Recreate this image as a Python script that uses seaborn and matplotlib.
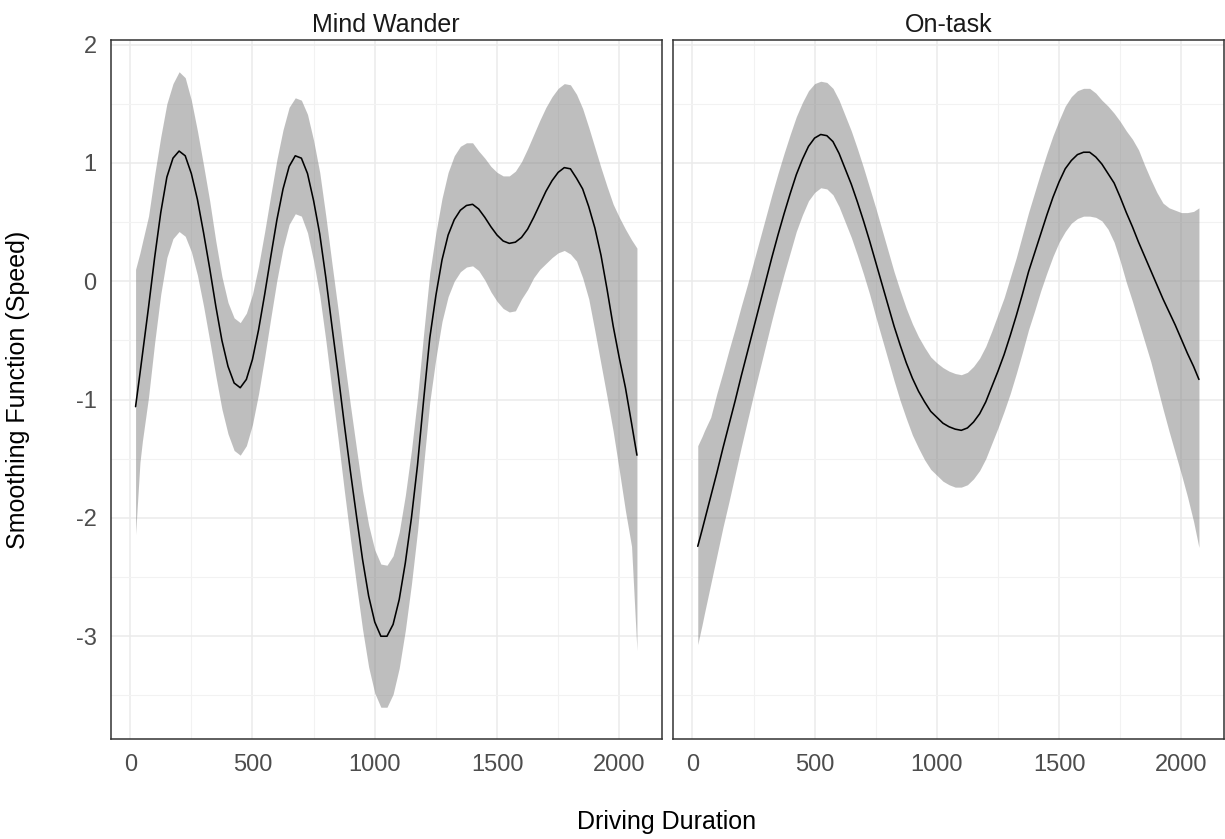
import numpy as np
import pandas as pd
import matplotlib
matplotlib.use("Agg")
import matplotlib.pyplot as plt
import seaborn as sns
from matplotlib.ticker import MultipleLocator

# ---------------- data ----------------
panels = ["Mind Wander", "On-task"]

duration = [22, 40,
            50, 75,
            100, 125, 150, 175, 200, 225, 250, 275, 300, 325, 350, 375,
            400, 425, 450, 475, 500, 525, 550, 575, 600, 625, 650, 675,
            700, 725, 750, 775, 800, 825, 850, 875, 900, 925, 950, 975,
            1000, 1025, 1050, 1075, 1100, 1125, 1150, 1175, 1200, 1225, 1250, 1275,
            1300, 1325, 1350, 1375, 1400, 1425, 1450, 1475, 1500, 1525, 1550, 1575,
            1600, 1625, 1650, 1675, 1700, 1725, 1750, 1775, 1800, 1825, 1850, 1875,
            1900, 1925, 1950, 1975, 2000, 2025, 2050,
            2072]

mw_fit = [-1.06, -0.78,
          -0.62, -0.22,
          0.20, 0.58, 0.88, 1.04, 1.10, 1.06, 0.91, 0.69, 0.41, 0.11, -0.21, -0.50,
          -0.72, -0.86, -0.90, -0.83, -0.66, -0.41, -0.11, 0.21, 0.52, 0.78, 0.97, 1.06,
          1.04, 0.91, 0.68, 0.40, 0.03, -0.38, -0.78, -1.20, -1.60, -1.98, -2.35, -2.66,
          -2.88, -3.00, -3.00, -2.90, -2.69, -2.38, -2.00, -1.55, -1.00, -0.48, -0.12, 0.18,
          0.39, 0.52, 0.60, 0.64, 0.65, 0.61, 0.54, 0.46, 0.39, 0.34, 0.32, 0.33,
          0.37, 0.44, 0.54, 0.65, 0.76, 0.85, 0.92, 0.96, 0.95, 0.87, 0.78, 0.63,
          0.45, 0.22, -0.07, -0.38, -0.65, -0.90, -1.20,
          -1.47]
mw_upper = [0.10, 0.24,
            0.33, 0.55,
            0.90, 1.22, 1.50, 1.67, 1.77, 1.72, 1.53, 1.27, 0.98, 0.68, 0.34, 0.04,
            -0.18, -0.31, -0.35, -0.27, -0.11, 0.13, 0.42, 0.73, 1.03, 1.28, 1.47, 1.55,
            1.53, 1.41, 1.19, 0.92, 0.55, 0.15, -0.24, -0.65, -1.04, -1.41, -1.77, -2.06,
            -2.27, -2.39, -2.40, -2.32, -2.12, -1.81, -1.43, -0.98, -0.44, 0.07, 0.41, 0.70,
            0.92, 1.06, 1.14, 1.17, 1.17, 1.10, 1.04, 0.97, 0.92, 0.89, 0.89, 0.93,
            1.01, 1.12, 1.24, 1.36, 1.47, 1.56, 1.63, 1.67, 1.66, 1.58, 1.46, 1.30,
            1.13, 0.96, 0.80, 0.65, 0.54, 0.44, 0.35,
            0.28]
mw_lower = [-2.14, -1.53,
            -1.35, -0.98,
            -0.52, -0.11, 0.20, 0.36, 0.42, 0.38, 0.25, 0.05, -0.21, -0.50, -0.80, -1.08,
            -1.29, -1.43, -1.47, -1.39, -1.21, -0.95, -0.64, -0.31, 0.01, 0.28, 0.48, 0.57,
            0.55, 0.41, 0.17, -0.12, -0.50, -0.92, -1.33, -1.76, -2.17, -2.56, -2.94, -3.26,
            -3.48, -3.60, -3.60, -3.49, -3.27, -2.95, -2.56, -2.11, -1.55, -1.02, -0.65, -0.34,
            -0.13, 0.00, 0.08, 0.12, 0.13, 0.09, 0.01, -0.09, -0.17, -0.23, -0.26, -0.25,
            -0.15, -0.07, 0.03, 0.10, 0.15, 0.20, 0.24, 0.26, 0.23, 0.17, 0.03, -0.15,
            -0.42, -0.70, -0.98, -1.27, -1.60, -1.94, -2.24,
            -3.12]

ot_fit = [-2.24, -2.10,
          -2.02, -1.82,
          -1.62, -1.41, -1.21, -1.01, -0.80, -0.60, -0.40, -0.20, 0.00, 0.20, 0.39, 0.57,
          0.74, 0.90, 1.03, 1.14, 1.21, 1.24, 1.23, 1.18, 1.08, 0.95, 0.82, 0.67,
          0.51, 0.34, 0.16, -0.02, -0.20, -0.38, -0.54, -0.69, -0.82, -0.93, -1.02, -1.10,
          -1.15, -1.20, -1.23, -1.25, -1.26, -1.24, -1.19, -1.12, -1.02, -0.89, -0.76, -0.62,
          -0.46, -0.29, -0.11, 0.08, 0.24, 0.40, 0.56, 0.71, 0.84, 0.95, 1.02, 1.07,
          1.09, 1.09, 1.05, 0.99, 0.91, 0.83, 0.71, 0.58, 0.46, 0.33, 0.21, 0.09,
          -0.03, -0.15, -0.26, -0.37, -0.49, -0.61, -0.72,
          -0.83]
ot_upper = [-1.39, -1.31,
            -1.26, -1.15,
            -0.95, -0.77, -0.58, -0.40, -0.21, -0.03, 0.16, 0.35, 0.54, 0.73, 0.91, 1.08,
            1.24, 1.39, 1.51, 1.61, 1.67, 1.69, 1.68, 1.63, 1.53, 1.40, 1.27, 1.12,
            0.96, 0.79, 0.62, 0.44, 0.26, 0.08, -0.08, -0.23, -0.36, -0.47, -0.56, -0.64,
            -0.69, -0.73, -0.76, -0.78, -0.79, -0.77, -0.72, -0.65, -0.55, -0.42, -0.28, -0.14,
            0.03, 0.20, 0.39, 0.58, 0.75, 0.92, 1.08, 1.23, 1.36, 1.48, 1.56, 1.61,
            1.63, 1.63, 1.59, 1.53, 1.48, 1.42, 1.35, 1.27, 1.20, 1.11, 0.98, 0.86,
            0.75, 0.66, 0.62, 0.60, 0.58, 0.58, 0.59,
            0.62]
ot_lower = [-3.07, -2.90,
            -2.80, -2.56,
            -2.32, -2.08, -1.86, -1.63, -1.40, -1.18, -0.96, -0.75, -0.54, -0.33, -0.13, 0.06,
            0.24, 0.42, 0.56, 0.68, 0.75, 0.79, 0.78, 0.73, 0.63, 0.50, 0.37, 0.22,
            0.06, -0.11, -0.30, -0.48, -0.66, -0.84, -1.01, -1.16, -1.30, -1.41, -1.51, -1.59,
            -1.64, -1.69, -1.72, -1.74, -1.74, -1.72, -1.67, -1.60, -1.50, -1.37, -1.24, -1.10,
            -0.95, -0.78, -0.60, -0.41, -0.25, -0.08, 0.07, 0.21, 0.33, 0.42, 0.49, 0.53,
            0.55, 0.55, 0.54, 0.51, 0.44, 0.33, 0.17, -0.01, -0.17, -0.34, -0.51, -0.68,
            -0.88, -1.08, -1.27, -1.45, -1.63, -1.82, -2.03,
            -2.25]

x_ticks = [0, 500, 1000, 1500, 2000]
y_ticks = [-3, -2, -1, 0, 1, 2]

df = pd.concat([
    pd.DataFrame({"panel": panels[0], "duration": duration, "fit": mw_fit,
                  "upper": mw_upper, "lower": mw_lower}),
    pd.DataFrame({"panel": panels[1], "duration": duration, "fit": ot_fit,
                  "upper": ot_upper, "lower": ot_lower}),
], ignore_index=True)

# ---------------- style ----------------
sns.set_theme(style="white")
plt.rcParams["font.family"] = ["Liberation Sans", "DejaVu Sans"]
plt.rcParams["axes.unicode_minus"] = False

W, H = 1225, 839
fig = plt.figure(figsize=(W / 100, H / 100), dpi=100)
bottom = 1 - 739 / H
height = 699 / H
ax1 = fig.add_axes([110.5 / W, bottom, 551.5 / W, height])
ax2 = fig.add_axes([672.7 / W, bottom, 551.3 / W, height], sharey=ax1)
axes = [ax1, ax2]

# shared scales with 5% expansion (ggplot-like)
xmin, xmax = df["duration"].min(), df["duration"].max()
xr = xmax - xmin
ymin, ymax = df["lower"].min(), df["upper"].max()
yr = ymax - ymin

for i, (ax, panel) in enumerate(zip(axes, panels)):
    sub = df[df["panel"] == panel]
    ax.set_axisbelow(True)
    ax.fill_between(sub["duration"], sub["lower"], sub["upper"],
                    color="#7f7f7f", alpha=0.5, linewidth=0, zorder=2)
    sns.lineplot(data=sub, x="duration", y="fit", ax=ax, color="black",
                 linewidth=1.15, zorder=3, sort=False)
    ax.set_xlim(xmin - 0.05 * xr, xmax + 0.05 * xr)
    ax.set_ylim(ymin - 0.05 * yr, ymax + 0.05 * yr)
    ax.set_xticks(x_ticks)
    ax.set_yticks(y_ticks)
    ax.xaxis.set_minor_locator(MultipleLocator(250))
    ax.yaxis.set_minor_locator(MultipleLocator(0.5))
    ax.grid(which="major", color="#EBEBEB", linewidth=1.1)
    ax.grid(which="minor", color="#F2F2F2", linewidth=0.8)
    ax.tick_params(which="minor", length=0)
    ax.tick_params(which="major", direction="out", length=4, width=1.0,
                   color="#333333", labelsize=17, labelcolor="#4D4D4D")
    ax.tick_params(axis="x", pad=7)
    ax.tick_params(axis="y", pad=6)
    for s in ax.spines.values():
        s.set_visible(True)
        s.set_color("#333333")
        s.set_linewidth(1.1)
    ax.set_xlabel("")
    ax.set_ylabel("")
    ax.set_title(panel, fontsize=18, color="#1A1A1A", pad=6)
    if i == 1:
        ax.tick_params(axis="y", left=False, labelleft=False)

fig.text(667 / W, 1 - 822 / H, "Driving Duration", ha="center", va="center",
         fontsize=18, color="#000000")
fig.text(18 / W, 1 - 390 / H, "Smoothing Function (Speed)", ha="center", va="center",
         rotation=90, fontsize=18, color="#000000")

fig.savefig("out.png", dpi=100, facecolor="white")
